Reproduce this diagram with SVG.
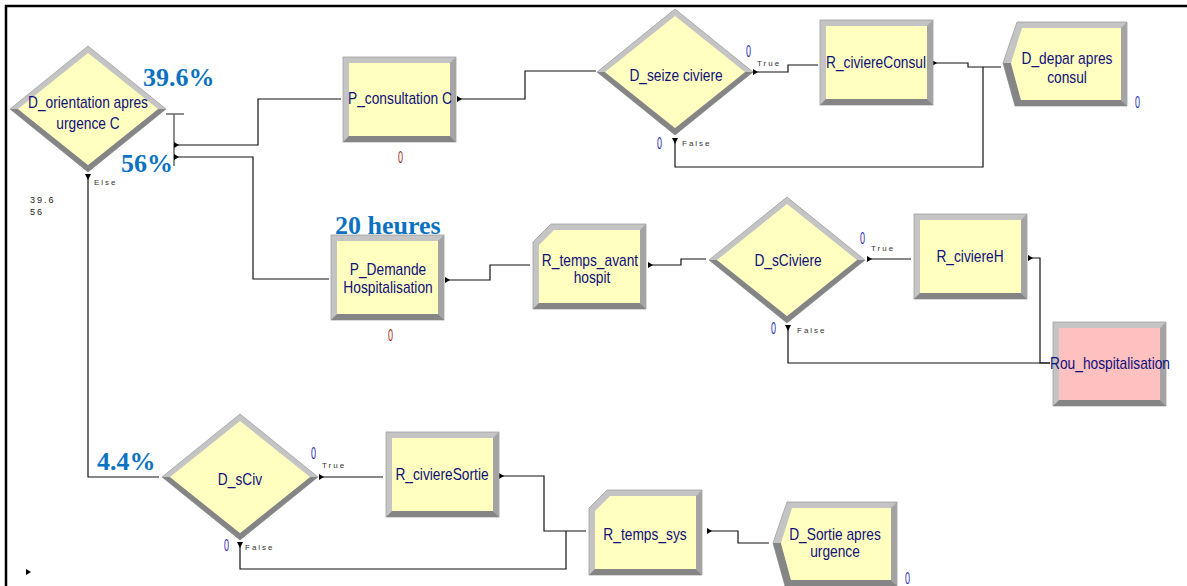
<svg xmlns="http://www.w3.org/2000/svg" xmlns:xlink="http://www.w3.org/1999/xlink" width="1187" height="586" viewBox="0 0 1187 586">
<style>
.lt{fill:#c4c4c4;stroke:#a0a0a0;stroke-width:0.8}
.dk{fill:#858585}
.md{fill:#a4a4a4}
.yf{fill:#ffffc0}
.pk{fill:#ffc0c0}
.conn{fill:none;stroke:#111;stroke-width:1.2}
.bar{fill:none;stroke:#707070;stroke-width:1.6}
.ar{fill:#000}
.lbl{font-family:"Liberation Sans",Arial,sans-serif;font-size:16px;fill:#10107a;text-anchor:middle}
.pct{font-family:"Liberation Serif","Times New Roman",serif;font-size:26px;font-weight:bold;fill:#0b72c2}
.sm{font-family:"Liberation Sans",Arial,sans-serif;font-size:8px;fill:#333;letter-spacing:2px}
.st{font-family:"Liberation Sans",Arial,sans-serif;font-size:9px;fill:#222;letter-spacing:2px}
.cb{font-family:"Liberation Sans",Arial,sans-serif;font-size:17px;fill:#2828b0}
.cr{font-family:"Liberation Sans",Arial,sans-serif;font-size:17px;fill:#a02424}
</style>
<defs>
<g id="dia">
<polygon class="lt" points="-78,0 0,-63 78,0 0,63"/>
<polygon class="dk" points="-78,0 0,63 78,0 70,0 0,56 -70,0"/>
<polygon class="yf" points="-70,0 0,-56 70,0 0,56"/>
</g>
<g id="box">
<rect class="lt" x="0" y="0" width="113" height="85"/>
<polygon class="md" points="113,0 113,85 107,79 107,6"/>
<polygon class="dk" points="113,85 0,85 6,79 107,79"/>
<rect class="yf" x="6" y="6" width="101" height="73"/>
</g>
<g id="boxp">
<rect class="lt" x="0" y="0" width="113" height="84"/>
<polygon class="md" points="113,0 113,84 107,78 107,6"/>
<polygon class="dk" points="113,84 0,84 6,78 107,78"/>
<rect class="pk" x="6" y="6" width="101" height="72"/>
</g>
<g id="rec">
<polygon class="lt" points="18,0 113,0 113,85 0,85 0,18"/>
<polygon class="md" points="113,0 113,85 107,79 107,6"/>
<polygon class="dk" points="113,85 0,85 6,79 107,79"/>
<polygon class="yf" points="21,6 107,6 107,79 6,79 6,21"/>
</g>
<g id="disp">
<polygon class="lt" points="14,0 124,0 124,84 12,84 0,41"/>
<polygon class="md" points="124,0 124,84 118,78 118,6"/>
<polygon class="dk" points="124,84 12,84 0,41 8,41 18,78 118,78"/>
<polygon class="yf" points="19,6 118,6 118,78 18,78 8,41"/>
</g>
</defs>

<rect x="0" y="0" width="1187" height="586" fill="#fff"/>
<polyline points="6,586 6,6 1187,6" fill="none" stroke="#000" stroke-width="2.5"/>

<g id="connectors">
<polyline class="bar" points="166,114 184,114"/>
<polyline class="bar" points="174,114 174,166"/>
<polyline class="conn" points="174,145 258,145 258,99 341,99"/>
<polyline class="conn" points="174,157 253,157 253,279 329,279"/>
<polyline class="conn" points="88,176 88,477 159,477"/>
<polyline class="conn" points="458,99 525,99 525,71 596,71"/>
<polyline class="conn" points="755,72 788,72 788,65 818,65"/>
<polyline class="conn" points="933,63 968,63 968,67 1001,67"/>
<polyline class="conn" points="675,140 675,167 983,167 983,67"/>
<polyline class="conn" points="447,280 490,280 490,265 530,265"/>
<polyline class="conn" points="649,265 681,265 681,259 706,259"/>
<polyline class="conn" points="869,259 911,259"/>
<polyline class="conn" points="1030,258 1040,258 1040,363 1050,363"/>
<polyline class="conn" points="788,327 788,363 1050,363"/>
<polyline class="conn" points="321,477 383,477"/>
<polyline class="conn" points="500,476 544,476 544,531 586,531"/>
<polyline class="conn" points="240,544 240,569 566,569 566,531"/>
<polyline class="conn" points="708,531 738,531 738,543 769,543"/>
<polygon class="ar" points="174,142 179,145 174,148"/>
<polygon class="ar" points="174,154 179,157 174,160"/>
<polygon class="ar" points="85,174 91,174 88,180"/>
<polygon class="ar" points="457,96 462,99 457,102"/>
<polygon class="ar" points="753,69 758,72 753,75"/>
<polygon class="ar" points="672,138 678,138 675,144"/>
<polygon class="ar" points="932,60 937,63 932,66"/>
<polygon class="ar" points="445,277 450,280 445,283"/>
<polygon class="ar" points="648,262 653,265 648,268"/>
<polygon class="ar" points="867,256 872,259 867,262"/>
<polygon class="ar" points="1028,255 1033,258 1028,261"/>
<polygon class="ar" points="785,325 791,325 788,331"/>
<polygon class="ar" points="319,474 324,477 319,480"/>
<polygon class="ar" points="499,473 504,476 499,479"/>
<polygon class="ar" points="237,542 243,542 240,548"/>
<polygon class="ar" points="707,528 712,531 707,534"/>
</g>

<g id="D_orientation">
<use xlink:href="#dia" x="88" y="109"/>
<text class="lbl" transform="translate(88,108) scale(0.86,1)">D_orientation apres</text>
<text class="lbl" transform="translate(88,129) scale(0.86,1)">urgence C</text>
</g>
<g id="P_consultation">
<use xlink:href="#box" x="343" y="57"/>
<text class="lbl" transform="translate(400,104) scale(0.86,1)">P_consultation C</text>
<text class="cr" x="398" y="163" textLength="5" lengthAdjust="spacingAndGlyphs">0</text>
</g>
<g id="D_seize">
<use xlink:href="#dia" x="675" y="72"/>
<text class="lbl" transform="translate(676,81) scale(0.86,1)">D_seize civiere</text>
</g>
<g id="R_civiereConsul">
<use xlink:href="#box" x="820" y="20"/>
<text class="lbl" transform="translate(876,68) scale(0.86,1)">R_civiereConsul</text>
</g>
<g id="D_depar">
<use xlink:href="#disp" x="1003" y="22"/>
<text class="lbl" transform="translate(1067,64) scale(0.86,1)">D_depar apres</text>
<text class="lbl" transform="translate(1067,83) scale(0.86,1)">consul</text>
<text class="cb" x="1135" y="108" textLength="5" lengthAdjust="spacingAndGlyphs">0</text>
</g>
<g id="P_Demande">
<use xlink:href="#box" x="331" y="235"/>
<text class="lbl" transform="translate(388,275) scale(0.86,1)">P_Demande</text>
<text class="lbl" transform="translate(388,293) scale(0.86,1)">Hospitalisation</text>
<text class="cr" x="388" y="341" textLength="5" lengthAdjust="spacingAndGlyphs">0</text>
</g>
<g id="R_temps_avant">
<use xlink:href="#rec" x="533" y="224"/>
<text class="lbl" transform="translate(590,266) scale(0.86,1)">R_temps_avant</text>
<text class="lbl" transform="translate(592,283) scale(0.86,1)">hospit</text>
</g>
<g id="D_sCiviere">
<use xlink:href="#dia" x="787" y="260"/>
<text class="lbl" transform="translate(788,266) scale(0.86,1)">D_sCiviere</text>
</g>
<g id="R_civiereH">
<use xlink:href="#box" x="914" y="214"/>
<text class="lbl" transform="translate(970,262) scale(0.86,1)">R_civiereH</text>
</g>
<g id="Rou_hospitalisation">
<use xlink:href="#boxp" x="1053" y="322"/>
<text class="lbl" transform="translate(1110,369) scale(0.86,1)">Rou_hospitalisation</text>
</g>
<g id="D_sCiv">
<use xlink:href="#dia" x="240" y="477"/>
<text class="lbl" transform="translate(240,485) scale(0.86,1)">D_sCiv</text>
</g>
<g id="R_civiereSortie">
<use xlink:href="#box" x="386" y="432"/>
<text class="lbl" transform="translate(442,480) scale(0.86,1)">R_civiereSortie</text>
</g>
<g id="R_temps_sys">
<use xlink:href="#rec" x="589" y="490"/>
<text class="lbl" transform="translate(645,540) scale(0.86,1)">R_temps_sys</text>
</g>
<g id="D_Sortie">
<use xlink:href="#disp" x="773" y="502"/>
<text class="lbl" transform="translate(835,540) scale(0.86,1)">D_Sortie apres</text>
<text class="lbl" transform="translate(835,557) scale(0.86,1)">urgence</text>
<text class="cb" x="905" y="584" textLength="5" lengthAdjust="spacingAndGlyphs">0</text>
</g>

<g id="labels">
<text class="pct" x="143" y="86">39.6%</text>
<text class="pct" x="121" y="172">56%</text>
<text class="pct" x="335" y="234">20 heures</text>
<text class="pct" x="97" y="470">4.4%</text>
<text class="sm" x="94" y="185">Else</text>
<text class="st" x="30" y="203">39.6</text>
<text class="st" x="30" y="215">56</text>
<text class="cb" x="746" y="57" textLength="5" lengthAdjust="spacingAndGlyphs">0</text>
<text class="sm" x="757" y="66">True</text>
<text class="cb" x="657" y="149" textLength="5" lengthAdjust="spacingAndGlyphs">0</text>
<text class="sm" x="682" y="146">False</text>
<text class="cb" x="860" y="244" textLength="5" lengthAdjust="spacingAndGlyphs">0</text>
<text class="sm" x="871" y="251">True</text>
<text class="cb" x="771" y="334" textLength="5" lengthAdjust="spacingAndGlyphs">0</text>
<text class="sm" x="797" y="333">False</text>
<text class="cb" x="311" y="459" textLength="5" lengthAdjust="spacingAndGlyphs">0</text>
<text class="sm" x="322" y="468">True</text>
<text class="cb" x="224" y="551" textLength="5" lengthAdjust="spacingAndGlyphs">0</text>
<text class="sm" x="245" y="550">False</text>
<polygon class="ar" points="26,569 31,572 26,575"/>
</g>
</svg>
